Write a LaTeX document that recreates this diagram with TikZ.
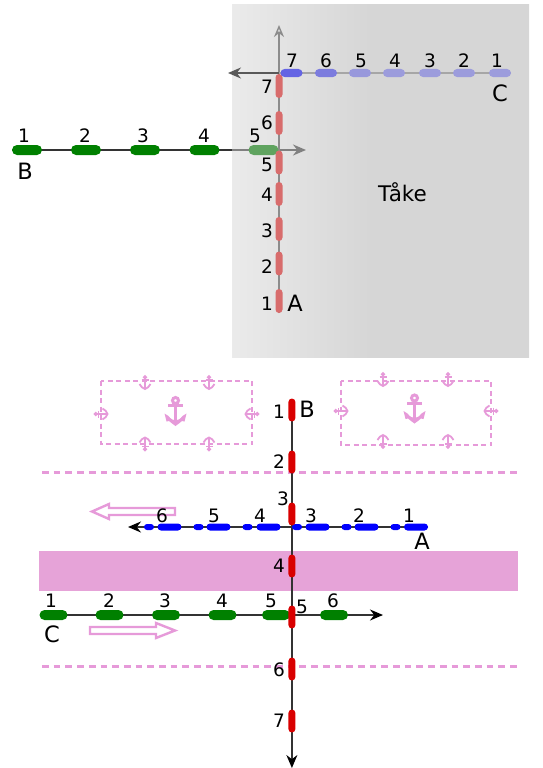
\documentclass[tikz,border=0pt]{standalone}
\usepackage{fontspec}
\setmainfont{DejaVu Sans}
\usepackage{xcolor}
\usetikzlibrary{
  arrows.meta,
  positioning,
  shapes.misc
}
\definecolor{seapink}{HTML}{E6A3D8}
\definecolor{markpink}{HTML}{E69AD9}
\definecolor{fogred}{HTML}{D86C6C}
\definecolor{foggreen}{HTML}{5FA35F}
\definecolor{shipgreen}{HTML}{008000}
\pgfdeclarehorizontalshading{fogshade}{100bp}{
  color(0bp)=(black!8); color(25bp)=(black!8); color(48bp)=(black!16); color(100bp)=(black!16)}

\begin{document}
\begin{tikzpicture}[
  x=1pt, y=-1pt,
  ship/.style={rounded rectangle, draw=none, inner sep=0pt, minimum height=10pt, minimum width=30pt},
  gship/.style={ship, fill=shipgreen},
  fship/.style={ship, fill=fogred, rotate=90, minimum width=24pt, minimum height=7pt},
  cship/.style={ship, minimum width=22pt, minimum height=8pt},
  rship/.style={ship, fill=red!85!black, rotate=90, minimum width=23pt, minimum height=7pt},
  bship/.style={ship, fill=blue, minimum width=24pt, minimum height=7pt},
  bstub/.style={ship, fill=blue, minimum width=10pt, minimum height=6pt},
  lbl/.style={font=\fontsize{18.5}{18.5}\selectfont, text=black, inner sep=0pt},
  tag/.style={font=\fontsize{22.5}{22.5}\selectfont, text=black, inner sep=0pt},
  track/.style={line width=1.6pt, draw=black!80},
  tip/.style={-{Stealth[length=13pt,width=11pt]}},
  sealine/.style={draw=markpink, line width=3pt, dash pattern=on 6.7pt off 5pt},
  boxline/.style={draw=markpink, line width=2.6pt, dash pattern=on 5pt off 3.5pt},
  hollow/.style={draw=markpink, fill=white, line width=2.4pt},
  anchorsym/.pic={
    \draw[draw=markpink, line width=3pt] (0,-10.5) circle (3);
    \draw[draw=markpink, line width=3pt] (-7.5,-5.5) -- (7.5,-5.5);
    \draw[draw=markpink, line width=3pt] (0,-7.5) -- (0,13);
    \fill[markpink] (-11,2.5) -- (-7,5) .. controls (-5,8) and (-2,9.5) .. (0,9.5)
      .. controls (2,9.5) and (5,8) .. (7,5) -- (11,2.5) -- (9,10.5) -- (6.5,10)
      .. controls (5,12) and (2,13) .. (0,15) .. controls (-2,13) and (-5,12) .. (-6.5,10)
      -- (-9,10.5) -- cycle;
  },
  smallanchor/.pic={
    \draw[draw=markpink, line width=1.4pt] (0,-5.2) circle (1.4);
    \draw[draw=markpink, line width=1.4pt] (-3.5,-2.5) -- (3.5,-2.5);
    \draw[draw=markpink, line width=1.4pt] (0,-4) -- (0,6.5);
    \draw[draw=markpink, line width=1.8pt] (-5.5,1.5) .. controls (-4.5,4.5) and (-2,5.5) .. (0,6.5)
      .. controls (2,5.5) and (4.5,4.5) .. (5.5,1.5);
  }
]
\useasboundingbox (0,0) rectangle (543,768);

% fog bank
\node[anchor=north west, minimum width=297pt, minimum height=352.5pt, inner sep=0pt,
      shading=fogshade, draw=none, outer sep=0pt] (fog) at (232,4.5) {};
\node[tag, anchor=base, font=\fontsize{21.5}{21.5}\selectfont] (fogname) at (402.5,201) {Tåke};

% tracks in the fog
\coordinate (bstart) at (12,150);
\coordinate (bfog) at (232,150);
\coordinate (bend) at (306,150);
\coordinate (astart) at (279,313);
\coordinate (aend) at (279,25);
\coordinate (cstart) at (511,73);
\coordinate (cbow) at (279,73);
\coordinate (cend) at (228,73);
\draw[track] (bstart) -- (bfog);
\draw[line width=1.4pt, draw=black!50, tip] (bfog) -- (bend);
\draw[line width=1.4pt, draw=black!45, -{Stealth[length=12pt,width=10pt,open]}] (astart) -- (aend);
\draw[line width=1.4pt, draw=black!35] (cstart) -- (cbow);
\draw[line width=1.4pt, draw=black!65, tip] (cbow) -- (cend);

% ship B, top
\foreach \n/\x/\lx in {1/27/24, 2/86/85, 3/145/143, 4/204.5/204}{
  \node[gship] (tb\n) at (\x,150) {};
  \node[lbl] (ltb\n) at (\lx,136) {\n};
}
\node[ship, fill=foggreen] (tb5) at (263.5,150) {};
\node[lbl] (ltb5) at (255,136) {5};
\node[tag] (tagb) at (25,171) {B};

% ship A, top
\foreach \n/\y/\ly in {1/301/304, 2/263.5/267, 3/229/231, 4/194/195, 5/162.5/165, 6/123/123, 7/86/87}{
  \node[fship] (ta\n) at (279,\y) {};
  \node[lbl] (lta\n) at (267,\ly) {\n};
}
\node[tag] (taga) at (295,303) {A};

% ship C, top
\foreach \n/\x/\lx/\c in {1/500/497/9C9CDC, 2/464/464/9C9CDC, 3/430/430/9C9CDC, 4/394/395/9C9CDC,
                          5/360/361/9898DC, 6/326/326/7C7CDE, 7/291.5/292/6464E4}{
  \definecolor{shipc}{HTML}{\c}
  \node[cship, fill=shipc] (tc\n) at (\x,73) {};
  \node[lbl] (ltc\n) at (\lx,61) {\n};
}
\node[tag] (tagc) at (500,93) {C};

% sea marks
\node[minimum width=479pt, minimum height=40pt, inner sep=0pt, fill=seapink, draw=none] (fairway) at (278.5,571) {};
\coordinate (ltop) at (42,472);
\coordinate (rtop) at (518,472);
\coordinate (lbot) at (42,666);
\coordinate (rbot) at (518,666);
\draw[sealine] (ltop) -- (rtop);
\draw[sealine] (lbot) -- (rbot);

% anchorage areas
\draw[boxline] (101,381) rectangle (252,444);
\draw[boxline] (341,381) rectangle (491,445);
\pic at (175.5,411) {anchorsym};
\pic at (414.5,408.5) {anchorsym};
\foreach \x/\t/\b in {145/382.5/444, 209/382.5/444, 383/379.5/441.5, 448/379.5/441.5}{
  \pic at (\x,\t) {smallanchor};
  \pic[rotate=180] at (\x,\b) {smallanchor};
}
\foreach \x/\y/\r in {101/414/90, 252/414/-90, 341/411/90, 491/411/-90}{
  \pic[rotate=\r] at (\x,\y) {smallanchor};
}

% direction arrows
\draw[hollow] (175,508) -- (109,508) -- (109,504) -- (92,511.5) -- (109,519) -- (109,515) -- (175,515) -- cycle;
\draw[hollow] (90,627) -- (156,627) -- (156,623) -- (175,630.5) -- (156,638) -- (156,634) -- (90,634) -- cycle;

% tracks in the open
\coordinate (astart2) at (428,527);
\coordinate (aend2) at (128,527);
\coordinate (cstart2) at (40,615);
\coordinate (cend2) at (383,615);
\coordinate (bstart2) at (291.9,399);
\coordinate (bend2) at (291.9,768);
\draw[track, -{Stealth[length=13pt,width=11pt,black]}] (astart2) -- (aend2);
\draw[track, -{Stealth[length=13pt,width=11pt,black]}] (cstart2) -- (cend2);
\draw[track, -{Stealth[length=13pt,width=11pt,black]}] (bstart2) -- (bend2);

% ship A, bottom
\foreach \n/\x/\sx/\lx in {1/416/395.5/409, 2/366.5/346.5/359, 3/317.5/297/311, 4/268.5/247.5/260, 5/218.5/198.5/214, 6/169.5/149/162}{
  \node[bship] (sa\n) at (\x,527) {};
  \node[bstub] (sb\n) at (\sx,527) {};
  \node[lbl] (lsa\n) at (\lx,516) {\n};
}
\node[tag] (taga2) at (422,541) {A};

% ship C, bottom
\foreach \n/\x/\lx in {1/53.5/51, 2/109.5/109, 3/166/165, 4/222.5/222, 5/276/271, 6/334/333}{
  \node[gship, minimum width=28pt] (sc\n) at (\x,615) {};
  \node[lbl] (lsc\n) at (\lx,601) {\n};
}
\node[tag] (tagc2) at (52,634) {C};

% ship B, bottom
\foreach \n/\y/\lx/\ly in {1/410/279/412, 2/462/279/462, 3/514/283/499, 4/566/279/566, 5/617/302/607, 6/669/279/670, 7/721/279/721}{
  \node[rship] (sv\n) at (291.9,\y) {};
  \node[lbl] (lsv\n) at (\lx,\ly) {\n};
}
\node[tag] (tagb2) at (307,409) {B};

\end{tikzpicture}
\end{document}
